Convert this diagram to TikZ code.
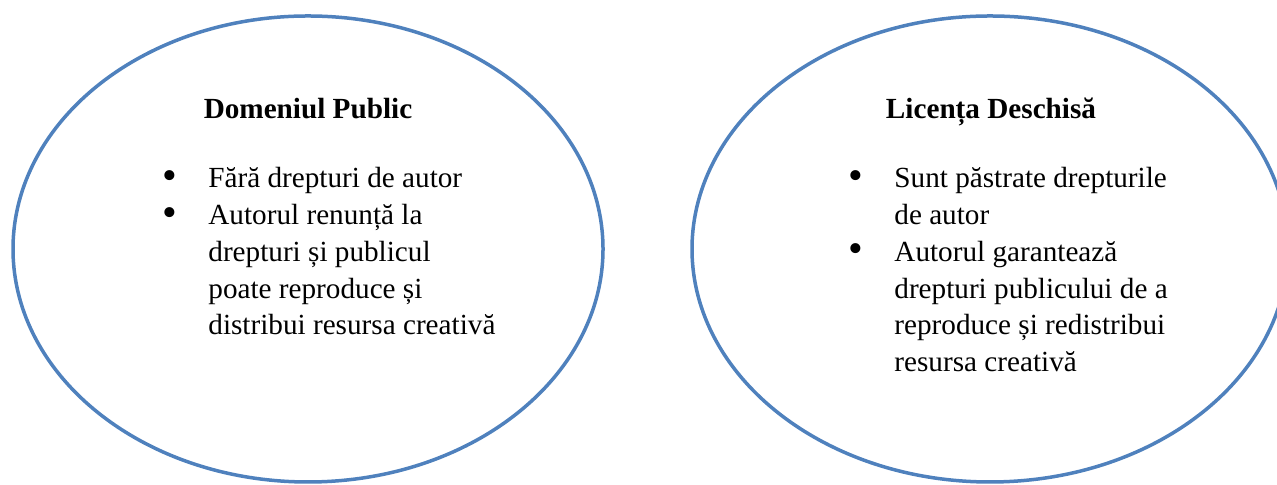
\documentclass[tikz,border=0pt]{standalone}
\usepackage{fontspec}
\setmainfont{Liberation Serif}
\usetikzlibrary{shapes.geometric}

\definecolor{ovalblue}{HTML}{4F81BD}
\newcommand{\txtsize}{\fontsize{14.6}{18.35}\selectfont}
\newcommand{\itm}{\llap{\raisebox{-0.75pt}{\fontsize{21}{21}\selectfont\textbullet}\hspace{15.8pt}}}

\tikzset{
  oval/.style={ellipse, draw=ovalblue, line width=1.75pt, inner sep=0pt,
    minimum width=#1, minimum height=233pt},
  heading/.style={font=\txtsize\bfseries, anchor=base, inner sep=0pt},
  body/.style={font=\txtsize, anchor=base west, inner sep=0pt}
}

\begin{document}
\begin{tikzpicture}[x=0.5pt,y=0.5pt]
\useasboundingbox (0,0) rectangle (1277,485);
\clip (0,0) rectangle (1277,485);
% the two ovals
\node[oval=295pt] (pub) at (308,236) {};
\node[oval=298pt] (lic) at (990,236) {};
% left: public domain
\node[heading] (pubT) at (308,366) {Domeniul Public};
\node[body] (pubL) at (208,297) {\begin{tabular}[t]{@{}l@{}}
\itm Fără drepturi de autor\\
\itm Autorul renunță la\\
drepturi și publicul\\
poate reproduce și\\
distribui resursa creativă
\end{tabular}};
% right: open licence
\node[heading] (licT) at (991,366) {Licența Deschisă};
\node[body] (licL) at (894,297) {\begin{tabular}[t]{@{}l@{}}
\itm Sunt păstrate drepturile\\
de autor\\
\itm Autorul garantează\\
drepturi publicului de a\\
reproduce și redistribui\\
resursa creativă
\end{tabular}};
\end{tikzpicture}
\end{document}
